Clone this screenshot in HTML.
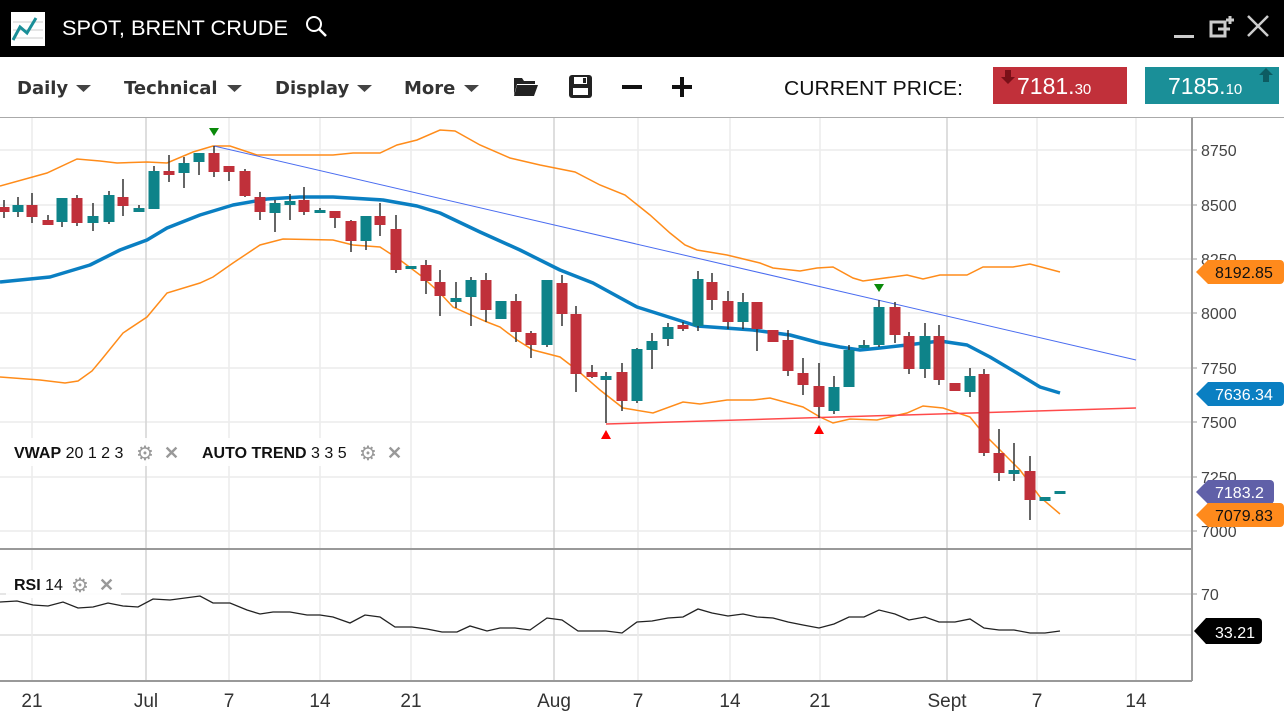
<!DOCTYPE html>
<html><head><meta charset="utf-8"><style>
html,body{margin:0;padding:0;width:1284px;height:721px;overflow:hidden;background:#fff;font-family:"Liberation Sans",sans-serif}
#hdr{position:absolute;left:0;top:0;width:1284px;height:57px;background:#000}
svg{position:absolute;left:0;top:0}
</style></head><body>
<div id="hdr"></div>
<svg width="1284" height="721" id="s" xmlns="http://www.w3.org/2000/svg">
<rect x="11" y="12" width="34" height="34" fill="#fff"/>
<line x1="13" y1="22" x2="43" y2="22" stroke="#ccc"/><line x1="13" y1="30" x2="43" y2="30" stroke="#ccc"/><line x1="13" y1="38" x2="43" y2="38" stroke="#ccc"/>
<polyline points="13,40 20,27 27,33 36,18" fill="none" stroke="#1a8f98" stroke-width="3"/>
<text x="62" y="35" fill="#fff" font-size="21" textLength="226" lengthAdjust="spacingAndGlyphs" font-family="Liberation Sans">SPOT, BRENT CRUDE</text>
<circle cx="314" cy="24" r="7" fill="none" stroke="#fff" stroke-width="2"/><line x1="319" y1="29" x2="326" y2="36" stroke="#fff" stroke-width="2.5"/>
<rect x="1174" y="35" width="20" height="3" fill="#ccc"/>
<rect x="1211" y="22" width="14" height="14" fill="none" stroke="#ccc" stroke-width="3"/><path d="M1226 20h8M1230 16v8" stroke="#ccc" stroke-width="3"/><path d="M1218 29h12" stroke="#ccc" stroke-width="3"/>
<path d="M1248 16l20 20M1268 16l-20 20" stroke="#ccc" stroke-width="2.5"/>
<g font-weight="bold" fill="#333" font-family="DejaVu Sans" font-size="18">
<text x="17" y="94">Daily</text><text x="124" y="94">Technical</text><text x="275" y="94">Display</text><text x="404" y="94">More</text></g>
<g fill="#444"><path d="M76 85h15l-7.5 7z"/><path d="M227 85h15l-7.5 7z"/><path d="M357 85h15l-7.5 7z"/><path d="M464 85h15l-7.5 7z"/></g>
<path d="M514 78h8l2 3h11v3h-18l-3 11z M517 85h21l-4 11h-20z" fill="#222"/>
<rect x="569" y="75" width="23" height="23" rx="3" fill="#222"/><rect x="574" y="77" width="13" height="7" fill="#fff"/><rect x="583" y="78" width="3" height="5" fill="#222"/><rect x="573" y="88" width="15" height="7" fill="#fff"/>
<rect x="622" y="85" width="20" height="4" fill="#111"/>
<rect x="672" y="85" width="20" height="4" fill="#111"/><rect x="680" y="77" width="4" height="20" fill="#111"/>
<text x="784" y="95" font-size="20" textLength="179" lengthAdjust="spacingAndGlyphs" fill="#111">CURRENT PRICE:</text>
<rect x="993" y="67" width="134" height="37" fill="#c1303a"/><path d="M1005 70h6v7h4l-7 7l-7-7h4z" fill="#7a1018"/>
<text x="1017" y="94" font-size="23" fill="#fff">7181.<tspan font-size="15">30</tspan></text>
<rect x="1145" y="67" width="134" height="37" fill="#1a8f98"/><path d="M1266 68l7 7h-4v7h-6v-7h-4z" fill="#0d5c62"/>
<text x="1168" y="94" font-size="23" fill="#fff">7185.<tspan font-size="15">10</tspan></text>
<line x1="0" y1="117.5" x2="1284" y2="117.5" stroke="#aaa"/>
<g stroke="#ececec" stroke-width="1.5">
<line x1="0" y1="150" x2="1192" y2="150"/><line x1="0" y1="205" x2="1192" y2="205"/><line x1="0" y1="259" x2="1192" y2="259"/><line x1="0" y1="313" x2="1192" y2="313"/><line x1="0" y1="368" x2="1192" y2="368"/><line x1="0" y1="422" x2="1192" y2="422"/><line x1="0" y1="477" x2="1192" y2="477"/><line x1="0" y1="531" x2="1192" y2="531"/>
<line x1="0" y1="594" x2="1192" y2="594" stroke="#ddd"/><line x1="0" y1="635" x2="1192" y2="635" stroke="#ddd"/>
</g>
<g id="vg"></g>
<polyline fill="none" stroke="#ff8c1a" stroke-width="1.5" points="0,186 47,173 77,159 100,161 117,163 147,162 167,163 193,152 213,146 230,146 257,155 333,155 353,153 380,153 397,145 417,140 440,130 455,131 480,145 510,158 540,165 575,172 600,185 625,195 650,215 670,233 685,245 697,250 727,255 760,263 773,268 800,271 817,268 833,267 853,278 863,281 907,275 923,279 940,275 967,275 983,267 1013,267 1030,264 1060,272"/>
<polyline fill="none" stroke="#ff8c1a" stroke-width="1.5" points="0,377 40,380 65,383 78,381 92,371 102,359 123,333 147,317 167,293 200,283 213,277 233,263 260,245 283,239 333,240 353,245 380,247 400,260 420,275 440,293 453,307 487,322 500,327 517,340 533,350 560,357 577,370 600,390 623,408 653,413 683,402 700,404 727,400 753,400 770,398 803,407 820,417 833,423 850,419 877,420 907,413 923,406 943,408 970,417 983,433 1000,450 1020,470 1040,497 1060,514"/>
<polyline fill="none" stroke="#0a7fc2" stroke-width="3.5" stroke-linejoin="round" points="0,282 50,277 90,265 120,250 147,240 167,228 200,215 233,205 267,199 300,197 333,197 383,200 417,206 440,213 480,232 520,250 560,270 593,283 637,307 697,326 753,330 790,335 820,343 840,347 860,350 880,348 907,345 940,341 967,345 990,357 1017,373 1040,387 1060,393"/>
<line x1="214" y1="146" x2="1136" y2="360" stroke="#4a6cf0" stroke-width="1"/>
<line x1="606" y1="424" x2="1136" y2="408" stroke="#ff4a4a" stroke-width="1.5"/>
<g id="cd"></g>
<path d="M209 128h10l-5 8z M874 284h10l-5 8z" fill="#0a8a0a"/>
<path d="M601 439h10l-5-9z M814 434h10l-5-9z" fill="#f00"/>
<line x1="0" y1="549" x2="1192" y2="549" stroke="#999" stroke-width="2"/>
<line x1="0" y1="681" x2="1192" y2="681" stroke="#999" stroke-width="2"/>
<line x1="1192" y1="118" x2="1192" y2="681" stroke="#999" stroke-width="2"/>
<g stroke="#999"><line x1="1192" y1="150" x2="1197" y2="150"/><line x1="1192" y1="205" x2="1197" y2="205"/><line x1="1192" y1="259" x2="1197" y2="259"/><line x1="1192" y1="313" x2="1197" y2="313"/><line x1="1192" y1="368" x2="1197" y2="368"/><line x1="1192" y1="422" x2="1197" y2="422"/><line x1="1192" y1="477" x2="1197" y2="477"/><line x1="1192" y1="531" x2="1197" y2="531"/><line x1="1192" y1="594" x2="1197" y2="594"/></g>
<g font-size="16" fill="#444">
<text x="1201" y="156">8750</text><text x="1201" y="211">8500</text><text x="1201" y="265">8250</text><text x="1201" y="319">8000</text><text x="1201" y="374">7750</text><text x="1201" y="428">7500</text><text x="1201" y="483">7250</text><text x="1201" y="537">7000</text><text x="1201" y="600">70</text></g>
<path d="M1196 272l12-12h72a4 4 0 0 1 4 4v16a4 4 0 0 1-4 4h-72z" fill="#ff8a1c"/><text x="1215" y="278" font-size="16" fill="#111">8192.85</text>
<path d="M1196 394l12-12h72a4 4 0 0 1 4 4v16a4 4 0 0 1-4 4h-72z" fill="#0a7fc2"/><text x="1215" y="400" font-size="16" fill="#fff">7636.34</text>
<path d="M1196 492l12-12h62a4 4 0 0 1 4 4v16a4 4 0 0 1-4 4h-62z" fill="#6060a8"/><text x="1215" y="498" font-size="16" fill="#fff">7183.2</text>
<path d="M1196 515l12-12h72a4 4 0 0 1 4 4v16a4 4 0 0 1-4 4h-72z" fill="#ff8a1c"/><text x="1215" y="521" font-size="16" fill="#111">7079.83</text>
<path d="M1194 631l12-13h52a4 4 0 0 1 4 4v18a4 4 0 0 1-4 4h-52z" fill="#000"/><text x="1215" y="638" font-size="16" fill="#fff">33.21</text>
<polyline fill="none" stroke="#222" stroke-width="1.3" points="0,602 17,601 33,605 48,606 63,602 78,608 93,607 108,603 123,606 138,607 153,599 170,600 200,596 213,603 230,603 247,610 260,614 273,612 290,612 307,615 320,615 333,617 350,623 365,615 380,617 395,627 412,627 427,629 442,632 457,632 470,626 487,631 500,628 515,628 530,630 547,618 562,620 578,631 592,631 606,631 622,633 637,622 652,621 668,618 683,617 698,609 712,613 728,616 743,614 757,617 773,618 788,622 803,625 819,628 834,624 849,617 864,617 879,610 895,614 909,620 925,617 939,622 955,622 970,619 984,628 999,630 1014,630 1030,633 1045,633 1060,631"/>
<rect x="6" y="438" width="404" height="28" fill="#fff" opacity="0.9"/>
<text x="14" y="458" font-size="16" fill="#111"><tspan font-weight="bold">VWAP</tspan> 20 1 2 3</text>
<text x="136" y="460" font-size="20" fill="#999">⚙</text><text x="164" y="459" font-size="18" fill="#999" font-weight="bold">✕</text>
<text x="202" y="458" font-size="16" fill="#111"><tspan font-weight="bold">AUTO TREND</tspan> 3 3 5</text>
<text x="359" y="460" font-size="20" fill="#999">⚙</text><text x="387" y="459" font-size="18" fill="#999" font-weight="bold">✕</text>
<rect x="6" y="570" width="115" height="28" fill="#fff" opacity="0.9"/>
<text x="14" y="590" font-size="16" fill="#111"><tspan font-weight="bold">RSI</tspan> 14</text>
<text x="71" y="592" font-size="20" fill="#999">⚙</text><text x="99" y="591" font-size="18" fill="#999" font-weight="bold">✕</text>
<g font-size="19" fill="#333" text-anchor="middle">
<text x="32" y="707">21</text><text x="146" y="707">Jul</text><text x="229" y="707">7</text><text x="320" y="707">14</text><text x="411" y="707">21</text><text x="554" y="707">Aug</text><text x="638" y="707">7</text><text x="730" y="707">14</text><text x="820" y="707">21</text><text x="947" y="707">Sept</text><text x="1037" y="707">7</text><text x="1136" y="707">14</text></g>
</svg>
<script>
var NS="http://www.w3.org/2000/svg";
function el(p,t,a){var e=document.createElementNS(NS,t);for(var k in a)e.setAttribute(k,a[k]);p.appendChild(e);return e;}
var vg=document.getElementById('vg');
[[32,0],[146,1],[229,0],[320,0],[411,0],[554,1],[638,0],[730,0],[820,0],[947,1],[1037,0],[1136,0]].forEach(function(v){
el(vg,'line',{x1:v[0],y1:118,x2:v[0],y2:681,stroke:v[1]?'#d4d4d4':'#ececec','stroke-width':1.5});});
var C=[[4,'r',207,212,200,218],[18,'t',205,212,197,217],[32,'r',205,217,193,223],[48,'r',220,225,215,225],[62,'t',198,222,198,227],[77,'r',198,223,195,226],[93,'t',216,223,203,231],[109,'t',195,222,191,224],[123,'r',197,206,179,216],[139,'t',208,212,205,212],[154,'t',171,209,166,209],[169,'r',171,175,155,182],[184,'t',163,173,157,188],[199,'t',153,162,153,175],[214,'r',153,172,146,177],[229,'r',166,172,166,181],[245,'r',171,196,169,197],[260,'r',197,212,192,220],[275,'t',203,213,200,232],[290,'t',201,205,194,220],[304,'r',200,212,187,215],[320,'t',210,213,208,213],[335,'r',211,218,211,228],[351,'r',221,241,220,252],[366,'t',216,241,216,250],[380,'r',216,225,203,236],[396,'r',229,270,215,273],[411,'t',266,269,266,269],[426,'r',265,281,260,294],[440,'r',282,296,270,316],[456,'t',298,302,282,308],[471,'t',280,297,277,326],[486,'r',280,310,273,322],[501,'t',301,319,301,319],[516,'r',301,332,294,342],[531,'r',333,345,331,358],[547,'t',280,345,280,347],[562,'r',283,314,275,326],[576,'r',314,374,306,392],[592,'r',372,377,365,378],[606,'t',376,380,372,423],[622,'r',372,401,363,411],[637,'t',349,401,348,403],[652,'t',341,350,333,369],[668,'t',327,339,323,346],[683,'r',325,329,322,331],[698,'t',279,326,271,331],[712,'r',282,300,273,310],[728,'r',301,322,291,329],[743,'t',302,322,293,329],[757,'r',302,329,302,351],[773,'r',330,342,330,342],[788,'r',340,371,330,376],[803,'r',373,385,358,395],[819,'r',386,407,363,418],[834,'t',387,411,376,414],[849,'t',350,387,345,387],[864,'t',345,347,340,347],[879,'t',307,345,300,347],[895,'r',307,335,302,343],[909,'r',336,369,332,374],[925,'t',336,369,323,378],[939,'r',336,380,325,385],[955,'r',383,391,383,391],[970,'t',376,392,368,397],[984,'r',374,453,369,456],[999,'r',453,473,429,481],[1014,'t',470,474,443,481],[1030,'r',471,500,456,520],[1045,'t',497,501,497,501],[1060,'t',491,494,491,494]];
var cd=document.getElementById('cd');
C.forEach(function(c){
el(cd,'line',{x1:c[0],y1:c[4],x2:c[0],y2:c[5],stroke:'#333','stroke-width':1.5});
el(cd,'rect',{x:c[0]-5.5,y:c[2],width:11,height:Math.max(3,c[3]-c[2]),fill:c[1]=='r'?'#c0303a':'#0e8389'});});
</script>
</body></html>
